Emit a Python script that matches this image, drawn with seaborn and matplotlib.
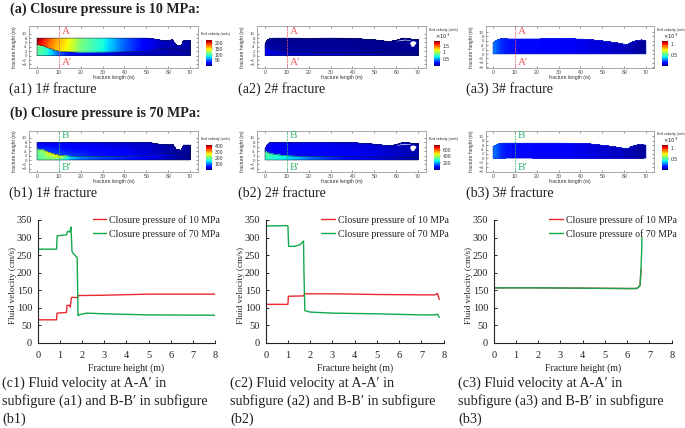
"""plot.py - fracture velocity fields and A-A' / B-B' velocity profiles."""

import numpy as np
import matplotlib
matplotlib.use("Agg")
import matplotlib.pyplot as plt
from matplotlib.cm import ScalarMappable
from matplotlib.colors import Normalize
from matplotlib.tri import Triangulation
import seaborn as sns

W, H = 685, 428
RED = "#e8292f"
GREEN = "#12a84b"
LINE_A = "#ee5a5f"
LINE_B = "#35b56e"
INK = "#222222"

sns.set_theme(style="ticks")
plt.rcParams["font.family"] = ["Liberation Serif", "DejaVu Serif"]

# --- fracture geometry (m), shared by the 10 MPa and 70 MPa rows
F1_X = [0, 3, 5, 8, 10, 15, 20, 30, 40, 50, 53, 58, 62, 63.6, 66, 67, 70]
F1_TOP = [8, 8, 8, 8, 8, 8, 8, 8, 8, 8, 7.7, 6.8, 7.2, 4.9, 4.4, 6.8, 6.8]
F1_IFACE = [5, 4.5, 3.6, 2.6, 2.1, 1.7, 1.6, 1.6, 1.7, 2.0, 2.4, 3.1, 3.0, 2.8, 2.4, 2.2, 1.4]

F2_X = [0, 1, 2, 4, 10, 20, 30, 40, 50, 57, 60, 63, 66, 67, 68, 70]
F2_TOP = [5, 7, 7.7, 8, 8, 7.9, 8, 7.9, 7.2, 6.4, 7, 8, 7.8, 7.5, 7.3, 7.5]
F2_IFACE = [4, 3.5, 3, 2.6, 1.8, 1.6, 1.5, 1.5, 1.4, 1.3, 1.3, 1.2, 1.2, 1.2, 1.1, 1]
F2_HOLE_X = [66.2, 67, 68, 69]
F2_HOLE_LO = [5.6, 4.2, 4.4, 6]
F2_HOLE_HI = [6, 6.8, 6.8, 6.3]
F2_SLIT_X = [60, 62, 64, 66.5]
F2_SLIT_LO = [6.7, 7.0, 7.2, 7.0]
F2_SLIT_HI = [6.8, 7.3, 7.5, 7.2]

F3_X = [0, 1, 3, 5, 10, 20, 30, 40, 44, 52, 57, 61.3, 63.3, 65, 68, 70]
F3_TOP = [5.2, 5.8, 6.8, 6.9, 6.9, 6.9, 6.9, 6.8, 6.6, 5.7, 5.0, 4.2, 5.3, 5.9, 6.4, 6.0]
F3_IFACE = [2, 2, 2, 2, 2, 2, 2, 2, 2, 2, 2, 2, 2, 2, 2, 2]

# --- field velocities along the fracture: bottom, below interface, above it, top
A1_BOTTOM = [105, 95, 85, 65, 50, 32, 25, 20, 15, 12, 10, 10, 8, 8, 8, 8, 6]
A1_BELOW = [110, 100, 85, 60, 45, 30, 25, 20, 18, 15, 15, 12, 10, 10, 10, 10, 8]
A1_ABOVE = [210, 195, 180, 165, 155, 140, 112, 85, 48, 24, 20, 10, 10, 8, 8, 8, 6]
A1_TOPV = [225, 205, 190, 175, 165, 145, 115, 88, 50, 25, 22, 12, 12, 10, 10, 10, 8]

B1_BOTTOM = [190, 195, 200, 195, 180, 110, 85, 65, 50, 35, 30, 25, 15, 12, 12, 12, 10]
B1_BELOW = [200, 225, 260, 270, 265, 150, 110, 85, 70, 50, 45, 30, 20, 15, 15, 15, 12]
B1_ABOVE = [70, 70, 75, 80, 80, 75, 70, 60, 50, 35, 30, 20, 15, 12, 12, 12, 8]
B1_TOPV = [45, 45, 45, 40, 40, 38, 36, 33, 30, 25, 22, 15, 12, 10, 10, 10, 8]

A2_BOTTOM = [0.2, 0.19, 0.17, 0.15, 0.13, 0.12, 0.11, 0.1, 0.09, 0.08, 0.07, 0.06, 0.05, 0.05, 0.04, 0.04]
A2_BELOW = [0.22, 0.18, 0.15, 0.12, 0.1, 0.09, 0.08, 0.07, 0.06, 0.05, 0.045, 0.04, 0.04, 0.04, 0.035, 0.03]
A2_ABOVE = [0.12, 0.1, 0.07, 0.05, 0.045, 0.045, 0.045, 0.045, 0.04, 0.035, 0.035, 0.03, 0.03, 0.03, 0.03, 0.025]
A2_TOPV = [0.06, 0.05, 0.04, 0.035, 0.035, 0.035, 0.035, 0.035, 0.035, 0.03, 0.03, 0.03, 0.025, 0.025, 0.025, 0.025]

B2_BOTTOM = [300, 300, 290, 280, 250, 170, 120, 90, 70, 55, 50, 45, 40, 40, 35, 30]
B2_BELOW = [340, 330, 320, 300, 270, 180, 120, 85, 65, 50, 45, 40, 35, 35, 30, 25]
B2_ABOVE = [110, 110, 105, 100, 95, 90, 85, 80, 70, 55, 50, 45, 40, 35, 30, 25]
B2_TOPV = [70, 70, 70, 70, 70, 70, 65, 60, 55, 45, 40, 35, 30, 30, 25, 25]

A3_FIELD = [0.28, 0.26, 0.2, 0.17, 0.15, 0.14, 0.13, 0.11, 0.1, 0.08, 0.07, 0.06, 0.05, 0.04, 0.03, 0.02]
B3_FIELD = [0.28, 0.26, 0.2, 0.17, 0.15, 0.14, 0.13, 0.11, 0.1, 0.08, 0.07, 0.06, 0.05, 0.04, 0.03, 0.02]

# --- colour bars
A1_TICKS, A1_VMAX = [50, 100, 150, 200], 230
B1_TICKS, B1_VMAX = [100, 200, 300, 400], 420
A2_TICKS, A2_VMAX = [0.5, 1, 1.5], 1.85
B2_TICKS, B2_VMAX = [200, 400, 600], 740
A3_TICKS, A3_VMAX = [0.5, 1], 1.12
B3_TICKS, B3_VMAX = [0.5, 1], 1.15

# --- velocity profiles: fracture height (m), fluid velocity (cm/s)
C1_10_H = [0, 0.85, 0.87, 1.3, 1.32, 1.45, 1.47, 1.52, 1.55, 1.8, 1.83, 3, 5, 8]
C1_10_V = [66, 66, 85, 87, 107, 107, 102, 128, 130, 129, 135, 136, 139, 139]
C1_70_H = [0, 0.85, 0.88, 1.3, 1.35, 1.45, 1.5, 1.55, 1.6, 1.78, 1.82, 1.85, 2.2, 3, 5, 8]
C1_70_V = [267, 267, 305, 308, 318, 316, 330, 260, 255, 243, 78, 80, 85, 83, 80, 79]

C2_10_H = [0, 1, 1.02, 1.7, 1.75, 3, 5, 7, 7.6, 7.72, 7.8]
C2_10_V = [110, 110, 133, 134, 140, 140, 138, 137, 137, 141, 124]
C2_70_H = [0, 0.9, 1, 1.03, 1.3, 1.55, 1.7, 1.72, 1.76, 2, 3, 5, 7, 7.6, 7.72, 7.8]
C2_70_V = [333, 334, 333, 275, 275, 280, 290, 200, 92, 88, 85, 83, 80, 80, 82, 73]

C3_10_H = [0, 2, 4, 6, 6.4, 6.5, 6.58, 6.62]
C3_10_V = [157, 157, 156, 155, 155, 158, 165, 210]
C3_70_H = [0, 2, 4, 6, 6.4, 6.5, 6.58, 6.62, 6.65, 6.66]
C3_70_V = [157, 157, 156, 155, 155, 158, 165, 210, 260, 300]

HEIGHT_TICKS = [0, 1, 2, 3, 4, 5, 6, 7, 8]
VELOCITY_TICKS = [0, 50, 100, 150, 200, 250, 300, 350]
LENGTH_TICKS = [0, 10, 20, 30, 40, 50, 60, 70]
LEGEND_LABELS = ["Closure pressure of 10 MPa", "Closure pressure of 70 MPa"]


def box(fig, left, top, right, bottom):
    return fig.add_axes([left / W, 1 - bottom / H, (right - left) / W, (bottom - top) / H])


def label(fig, x, y, text, **kw):
    kw.setdefault("color", INK)
    kw.setdefault("va", "center")
    fig.text(x / W, 1 - y / H, text, **kw)


def field_mesh(x, top_y, iface):
    """Triangles over four levels: floor, both sides of the interface, top edge."""
    n = len(x)
    xs = np.tile(x, 4)
    ys = np.concatenate([np.zeros(n), iface, iface + 0.12, top_y])
    tris = []
    for row in range(3):
        for col in range(n - 1):
            a = row * n + col
            tris += [[a, a + 1, a + n], [a + 1, a + n + 1, a + n]]
    return Triangulation(xs, ys, tris)


def draw_field(fig, rect, x0_px, y0_px, geom, speeds, vmax, ticks, cbar_rect, mult=False,
               iface_line=True, holes=()):
    left, top, right, bottom = rect
    x, top_y, iface = (np.array(g, dtype=float) for g in geom)
    ax = box(fig, left, top, right, bottom)
    levels = np.linspace(0, vmax, 90)
    ax.tricontourf(field_mesh(x, top_y, iface), np.concatenate(speeds), levels=levels,
                   cmap="jet", extend="both")
    edge = "#0b1a4a" if iface_line else "#1a35c8"
    ax.plot(np.r_[x[0], x, x[-1], x[0], x[0]], np.r_[top_y[0], top_y, 0, 0, top_y[0]],
            color=edge, lw=0.45, alpha=0.8)
    if iface_line:
        ax.plot(x, iface, color="#10203a", lw=0.5, alpha=0.75)
    for hx, lo, hi in holes:
        ax.fill_between(hx, lo, hi, color="white", lw=0)

    # 2.186 px per metre along, 2.2 px per metre across
    ax.set_xlim((left - x0_px) / 2.186, (right - x0_px) / 2.186)
    ax.set_ylim((y0_px - bottom) / 2.2, (y0_px - top) / 2.2)
    ax.set_xticks(LENGTH_TICKS)
    ax.set_yticks([v for v in range(-6, 11, 2) if v >= ax.get_ylim()[0]])
    ax.tick_params(top=True, right=True, direction="in", length=1.5, width=0.4,
                   labelsize=3.7, pad=1.5, colors="#444444")
    ax.tick_params(axis="y", labelsize=3.2)
    for t in ax.get_xticklabels() + ax.get_yticklabels():
        t.set_family("Liberation Sans")
    ax.set_xlabel("fracture length (m)", fontsize=3.6, labelpad=0.2, family="Liberation Sans", color="#333333")
    ax.set_ylabel("fracture height (m)", fontsize=3.6, labelpad=3.5, family="Liberation Sans", color="#333333")
    for s in ax.spines.values():
        s.set_color("#9a9a9a")
        s.set_linewidth(0.6)

    cax = box(fig, *cbar_rect)
    cb = fig.colorbar(ScalarMappable(Normalize(0, vmax), "jet"), cax=cax, ticks=ticks)
    cb.ax.set_yticklabels([f"{t:g}" for t in ticks], family="Liberation Sans")
    cb.ax.tick_params(length=1, width=0.3, labelsize=3.6, pad=1, colors="#333333")
    cb.outline.set_visible(False)
    label(fig, cbar_rect[0] - 5, cbar_rect[1] - 6 - (5 if mult else 0), "fluid velocity (cm/s)",
          fontsize=2.4, family="Liberation Sans")
    if mult:
        label(fig, cbar_rect[0] + 1, cbar_rect[1] - 5, r"$\times 10^{3}$", fontsize=3.8,
              family="Liberation Sans")
    return ax


def mark_section(ax, names, color):
    ax.axvline(10, color=color, lw=0.6, ls=(0, (2, 1.2)))
    low, high = ax.get_ylim()
    ax.text(11.5, high - 0.12 * (high - low), names[0], color=color, fontsize=8, va="center")
    ax.text(11.5, low + 0.12 * (high - low), names[1], color=color, fontsize=8, va="center")


def draw_profile(fig, left, right, h10, v10, h70, v70):
    ax = box(fig, left, 220, right, 343)
    sns.lineplot(x=h10, y=v10, color=RED, lw=1.0, sort=False, estimator=None, ax=ax,
                 label=LEGEND_LABELS[0])
    sns.lineplot(x=h70, y=v70, color=GREEN, lw=1.0, sort=False, estimator=None, ax=ax,
                 label=LEGEND_LABELS[1])
    ax.set_xlim(0, 8)
    ax.set_ylim(0, 350)
    ax.set_xticks(HEIGHT_TICKS)
    ax.set_yticks(VELOCITY_TICKS)
    ax.tick_params(direction="in", length=2.5, width=0.7, labelsize=7.5, colors=INK)
    ax.tick_params(axis="x", pad=6)
    ax.tick_params(axis="y", pad=4)
    ax.set_xlabel("Fracture height (m)", fontsize=7, labelpad=2, color=INK)
    ax.set_ylabel("Fluid velocity (cm/s)", fontsize=6.6, labelpad=0, y=0.465, color=INK)
    for side in ("top", "right"):
        ax.spines[side].set_visible(False)
    for side in ("left", "bottom"):
        ax.spines[side].set_linewidth(0.8)
        ax.spines[side].set_color(INK)
    ax.patch.set_alpha(0)
    ax.legend(loc="upper right", bbox_to_anchor=(1.028, 1.04), frameon=False, fontsize=7.15,
              handlelength=1.4, handletextpad=0.25, labelspacing=0.45, borderpad=0,
              borderaxespad=0, labelcolor=INK)
    return ax


def main():
    fig = plt.figure(figsize=(W / 100, H / 100), dpi=100, facecolor="white")

    geom1 = (F1_X, F1_TOP, F1_IFACE)
    geom2 = (F2_X, F2_TOP, F2_IFACE)
    geom3 = (F3_X, F3_TOP, F3_IFACE)
    holes2 = [(F2_HOLE_X, F2_HOLE_LO, F2_HOLE_HI), (F2_SLIT_X, F2_SLIT_LO, F2_SLIT_HI)]

    a1 = draw_field(fig, (29, 26, 198, 68), 37, 55.7, geom1,
                    [A1_BOTTOM, A1_BELOW, A1_ABOVE, A1_TOPV], A1_VMAX, A1_TICKS, (206, 40, 212, 66))
    a2 = draw_field(fig, (257, 26, 426, 68), 265, 55.7, geom2,
                    [A2_BOTTOM, A2_BELOW, A2_ABOVE, A2_TOPV], A2_VMAX, A2_TICKS, (434, 41, 440, 66),
                    mult=True, holes=holes2)
    a3 = draw_field(fig, (486, 26, 654, 68), 493, 54, geom3,
                    [A3_FIELD] * 4, A3_VMAX, A3_TICKS, (662, 41, 668, 66), mult=True, iface_line=False)
    b1 = draw_field(fig, (29, 131, 198, 172), 37, 160, geom1,
                    [B1_BOTTOM, B1_BELOW, B1_ABOVE, B1_TOPV], B1_VMAX, B1_TICKS, (206, 145, 212, 170))
    b2 = draw_field(fig, (257, 131, 426, 172), 265, 160, geom2,
                    [B2_BOTTOM, B2_BELOW, B2_ABOVE, B2_TOPV], B2_VMAX, B2_TICKS, (434, 145, 440, 170),
                    holes=holes2)
    b3 = draw_field(fig, (486, 131, 654, 172), 493, 158.3, geom3,
                    [B3_FIELD] * 4, B3_VMAX, B3_TICKS, (662, 145, 668, 170), mult=True, iface_line=False)

    for ax in (a1, a2, a3):
        mark_section(ax, ("A", "A\u2032"), LINE_A)
    for ax in (b1, b2, b3):
        mark_section(ax, ("B", "B\u2032"), LINE_B)

    draw_profile(fig, 37.7, 215, C1_10_H, C1_10_V, C1_70_H, C1_70_V)
    draw_profile(fig, 265.7, 443.7, C2_10_H, C2_10_V, C2_70_H, C2_70_V)
    draw_profile(fig, 493.7, 671.7, C3_10_H, C3_10_V, C3_70_H, C3_70_V)

    label(fig, 10, 9, "(a) Closure pressure is 10 MPa:", fontsize=10.2, fontweight="bold")
    label(fig, 10, 113, "(b) Closure pressure is 70 MPa:", fontsize=10.2, fontweight="bold")

    top_captions = [(9, "(a1) 1# fracture"), (238, "(a2) 2# fracture"), (466, "(a3) 3# fracture")]
    for x, text in top_captions:
        label(fig, x, 89, text, fontsize=10.1)
    bottom_captions = [(9, "(b1) 1# fracture"), (238, "(b2) 2# fracture"), (466, "(b3) 3# fracture")]
    for x, text in bottom_captions:
        label(fig, x, 193, text, fontsize=10.1)

    for x, n in [(2, 1), (230, 2), (458, 3)]:
        label(fig, x, 383, f"(c{n}) Fluid velocity at A-A\u2032 in", fontsize=10.2)
        label(fig, x, 401, f"subfigure (a{n}) and B-B\u2032 in subfigure", fontsize=10.2)
        label(fig, x, 419, f"(b{n})", fontsize=10.2)

    fig.savefig("out.png", dpi=100)
    plt.close(fig)


if __name__ == "__main__":
    main()
